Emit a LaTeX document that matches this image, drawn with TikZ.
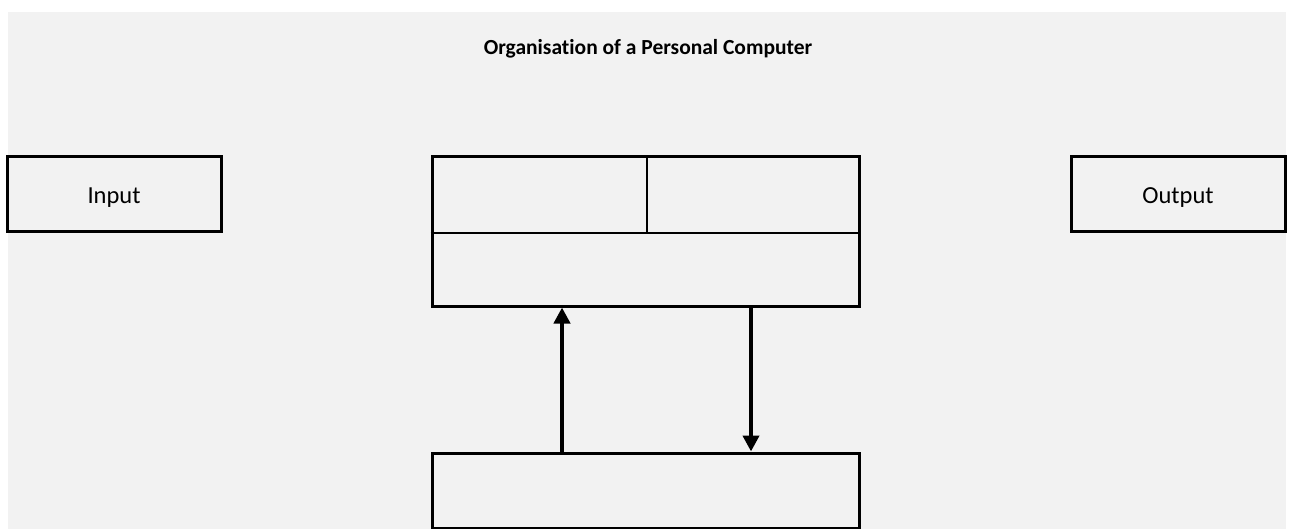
\documentclass[tikz,border=0pt]{standalone}
\usepackage{fontspec}
\setmainfont{Carlito}[Ligatures=NoCommon]
\usetikzlibrary{arrows.meta}
\definecolor{sheet}{RGB}{242,242,242}
\tikzset{
  unit/.style={draw, line width=3pt, minimum width=427pt, inner sep=0pt},
  side/.style={draw, line width=3pt, minimum width=214pt, minimum height=75pt, inner sep=0pt, text height=19pt, text depth=0pt, font=\fontsize{24.5}{28}\selectfont},
  flow/.style={line width=4pt, -{Triangle[width=16pt,length=16pt]}}
}
\begin{document}
\begin{tikzpicture}[x=1pt, y=-1pt]
        \useasboundingbox (0,0) rectangle (1289,529);
        \fill[sheet] (8,12) rectangle (1286,529);

        \node[anchor=base, font=\bfseries\fontsize{21.5}{25}\selectfont] (title) at (648,55) {Organisation of a Personal Computer};

        \node[side] (input) at (114,194.5) {Input};
        \node[side] (output) at (1178,194.5) {Output};

        \node[unit, minimum height=149pt] (cpu) at (645.5,231.5) {};
        \node[unit, minimum height=75pt] (memory) at (645.5,490.5) {};

        % inner division of the processor box
        \coordinate (split) at (647,233);
        \draw[line width=1.3pt] (cpu.west |- split) -- (cpu.east |- split);
        \draw[line width=1.3pt] (cpu.north -| split) -- (split);

        % transfers between processor and memory
        \coordinate (upx) at (562,0);
        \coordinate (downx) at (751,0);
        \draw[flow] (memory.north -| upx) -- (cpu.south -| upx);
        \draw[flow] (cpu.south -| downx) -- (memory.north -| downx);
    \end{tikzpicture}
\end{document}
